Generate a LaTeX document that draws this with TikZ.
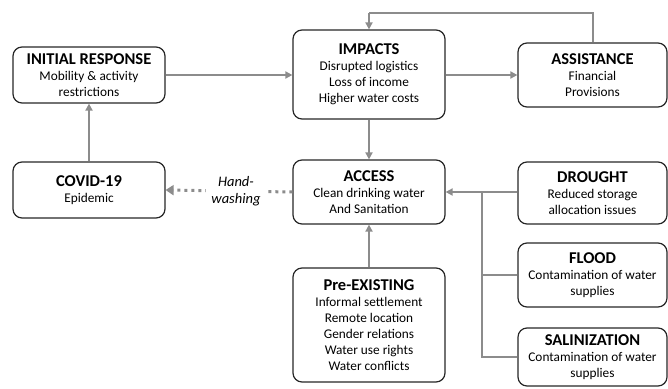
\documentclass[tikz,border=0pt]{standalone}
\usepackage{fontspec}
\setmainfont{Carlito}
\usetikzlibrary{arrows.meta,calc}
\newcommand{\boxtitle}[1]{{\fontsize{16.5}{19}\selectfont\bfseries #1}}
\begin{document}
\begin{tikzpicture}[x=1pt,y=-1pt,
  box/.style={draw=black!85,line width=1.2pt,rounded corners=9pt,align=center,
    inner sep=2pt,font=\fontsize{13.3}{16}\selectfont},
  flow/.style={draw=black!45,line width=2pt,-{Triangle[length=7pt,width=7pt]}},
  link/.style={draw=black!45,line width=2pt},
  wash/.style={draw=black!45,line width=3pt,dash pattern=on 3pt off 4pt,
    -{Triangle[length=8pt,width=10pt]}}]
  \useasboundingbox (0,0) rectangle (668,388);
  \node[box,minimum width=152pt,minimum height=56pt] (initial) at (89,75)
    {\boxtitle{INITIAL RESPONSE}\\Mobility \& activity\\restrictions};
  \node[box,minimum width=152pt,minimum height=56pt] (covid) at (89,190)
    {\boxtitle{COVID-19}\\Epidemic};
  \node[box,minimum width=152pt,minimum height=89pt] (impacts) at (369,74.5)
    {\boxtitle{IMPACTS}\\Disrupted logistics\\Loss of income\\Higher water costs};
  \node[box,minimum width=149pt,minimum height=64pt] (assist) at (592.5,75)
    {\boxtitle{ASSISTANCE}\\Financial\\Provisions};
  \node[box,minimum width=152pt,minimum height=64pt] (access) at (369,192)
    {\boxtitle{ACCESS}\\Clean drinking water\\And Sanitation};
  \node[box,minimum width=149pt,minimum height=62pt] (drought) at (592.5,193)
    {\boxtitle{DROUGHT}\\Reduced storage\\allocation issues};
  \node[box,minimum width=149pt,minimum height=64pt] (flood) at (592.5,275)
    {\boxtitle{FLOOD}\\Contamination of water\\supplies};
  \node[box,minimum width=149pt,minimum height=58pt] (salin) at (592.5,357)
    {\boxtitle{SALINIZATION}\\Contamination of water\\supplies};
  \node[box,minimum width=152pt,minimum height=114pt] (preex) at (369,325)
    {\boxtitle{Pre-EXISTING}\\Informal settlement\\Remote location\\Gender relations\\Water use rights\\Water conflicts};
  \coordinate (top) at (369,13);
  \coordinate (bus) at (482,192);
  % arrows
  \draw[flow] (covid) -- (initial);
  \draw[flow] (initial.east) -- (impacts.west |- initial.east);
  \draw[flow] (impacts.east |- assist.west) -- (assist.west);
  \draw[link] (assist.north) |- (top);
  \draw[flow] (top) -- (impacts.north);
  \draw[flow] (impacts) -- (access);
  \draw[flow] (preex) -- (access);
  \draw[flow] (drought.west |- access.east) -- (access.east);
  \draw[link] (flood.west) -| (bus);
  \draw[link] (salin.west) -| (bus);
  \draw[wash] (access.west) -- (covid.east)
    node[pos=0.445,fill=white,inner xsep=5pt,align=center,
      font=\fontsize{14.5}{17}\selectfont\itshape] (hand) {Hand-\\washing};
\end{tikzpicture}
\end{document}
